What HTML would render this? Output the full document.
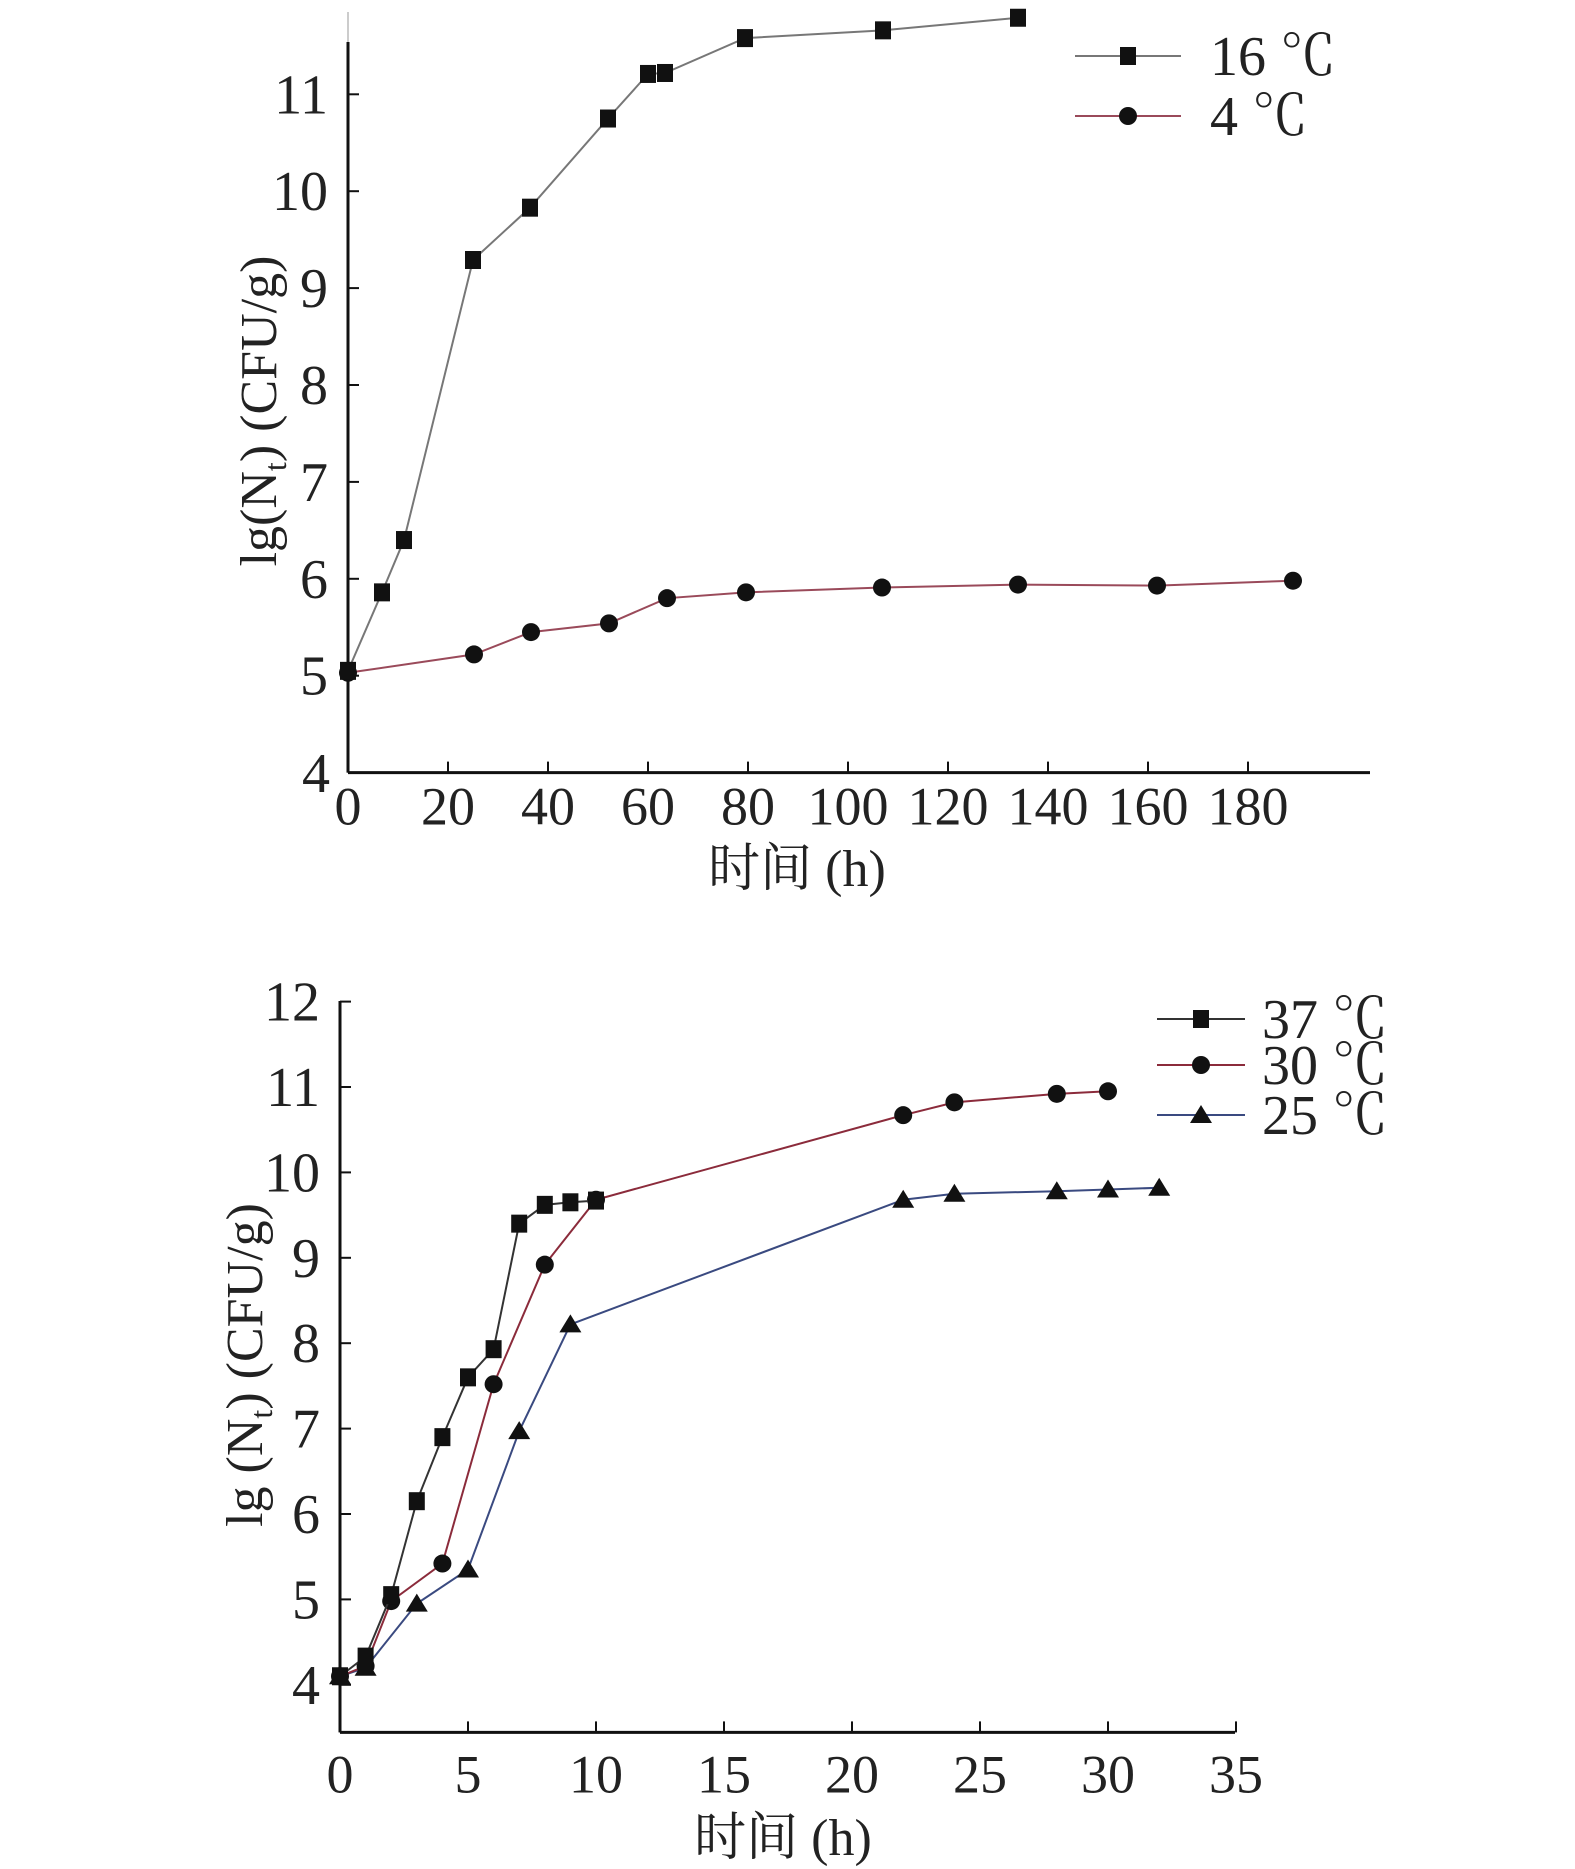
<!DOCTYPE html>
<html><head><meta charset="utf-8"><style>
html,body{margin:0;padding:0;background:#fff}
svg{display:block}
text{font-family:"Liberation Serif","Noto Serif CJK SC",serif;fill:#222}
</style></head><body>
<svg id="svg" width="1575" height="1869" viewBox="0 0 1575 1869"></svg>
<script>
// ---- top chart data ----
const topXTicks = [0,20,40,60,80,100,120,140,160,180];
const topYTicks = [4,5,6,7,8,9,10,11];
const t16x = [0,6.8,11.2,25,36.4,52,60,63.4,79.4,107,134];
const t16y = [5.05,5.86,6.40,9.29,9.83,10.75,11.21,11.22,11.58,11.66,11.79];
const t4x = [0,25.2,36.6,52.2,63.8,79.6,106.8,134,161.8,189];
const t4y = [5.03,5.22,5.45,5.54,5.80,5.86,5.91,5.94,5.93,5.98];
// ---- bottom chart data ----
const botXTicks = [0,5,10,15,20,25,30,35];
const botYTicks = [4,5,6,7,8,9,10,11,12];
const b37x = [0,1,2,3,4,5,6,7,8,9,10];
const b37y = [4.1,4.33,5.05,6.15,6.9,7.6,7.93,9.4,9.62,9.65,9.67];
const b30x = [0,1,2,4,6,8,10,22,24,28,30];
const b30y = [4.1,4.22,4.98,5.42,7.52,8.92,9.68,10.67,10.82,10.92,10.95];
const b25x = [0,1,3,5,7,9,22,24,28,30,32];
const b25y = [4.1,4.2,4.95,5.35,6.97,8.22,9.68,9.75,9.78,9.8,9.82];

const NS='http://www.w3.org/2000/svg';
const svg=document.getElementById('svg');
function mk(tag,attrs,parent){const e=document.createElementNS(NS,tag);for(const k in attrs)e.setAttribute(k,attrs[k]);(parent||svg).appendChild(e);return e;}

const tx=v=>348+v*5, ty=v=>772.6-(v-4)*96.9;
const bx=v=>340+v*25.6, by=v=>1684.8-(v-4)*85.4;

function drawAxes(X,Y,xt,yt,x0,y0,xEnd,yTop,grayTop,name,xlOff){
  const g=mk('g',{});
  
  
  if(grayTop) mk('line',{x1:x0,y1:grayTop,x2:x0,y2:yTop,stroke:'#ccc','stroke-width':2},g);
  mk('line',{x1:x0,y1:yTop,x2:x0,y2:y0,stroke:'#111','stroke-width':3},g);
  mk('line',{x1:x0,y1:y0,x2:xEnd,y2:y0,stroke:'#111','stroke-width':3},g);
  xt.forEach(v=>{
    mk('line',{x1:X(v),y1:y0,x2:X(v),y2:y0-11,stroke:'#111','stroke-width':2},g);
    const t=mk('text',{x:X(v),y:y0+xlOff,'text-anchor':'middle','font-size':54},g);
    t.textContent=v;
    
    
  });
  yt.forEach(v=>{
    mk('line',{x1:x0,y1:Y(v),x2:x0+11,y2:Y(v),stroke:'#111','stroke-width':2},g);
    const t=mk('text',{x:x0-20,y:Y(v)+19,'text-anchor':'end','font-size':56},g);
    t.textContent=v;
    
    
  });
}
drawAxes(tx,ty,topXTicks,topYTicks.slice(1),348,772.6,1370,42,12,'top',52);
{const t=mk('text',{x:330,y:792,'text-anchor':'end','font-size':56});t.textContent='4';}
drawAxes(bx,by,botXTicks,botYTicks,340,1732.4,1235,1001,0,'bottom',60);

function marker(type,x,y,parent){
  if(type==='sq') return mk('rect',{x:x-8,y:y-9,width:16,height:18,fill:'#111'},parent);
  if(type==='ci') return mk('ellipse',{cx:x,cy:y,rx:9,ry:9,fill:'#111'},parent);
  return mk('polygon',{points:`${x},${y-10} ${x+11},${y+8} ${x-11},${y+8}`,fill:'#111'},parent);
}
function series(xs,ys,X,Y,color,type,name){
  const g=mk('g',{});
  
  
  mk('polyline',{points:xs.map((v,i)=>X(v)+','+Y(ys[i])).join(' '),fill:'none',stroke:color,'stroke-width':2},g);
  xs.forEach((v,i)=>{const m=marker(type,X(v),Y(ys[i]),g);});
}
series(t4x,t4y,tx,ty,'#9a4a5a','ci','series-4c');
series(t16x,t16y,tx,ty,'#777','sq','series-16c');
series(b25x,b25y,bx,by,'#3a4a80','tr','series-25c');
series(b30x,b30y,bx,by,'#8b2b3b','ci','series-30c');
series(b37x,b37y,bx,by,'#333','sq','series-37c');

function legend(x1,x2,y,color,type,label,tx0,fs,name){
  const g=mk('g',{});
  
  
  mk('line',{x1:x1,y1:y,x2:x2,y2:y,stroke:color,'stroke-width':2},g);
  marker(type,(x1+x2)/2,y,g);
  const t=mk('text',{x:tx0,y:y+19,'font-size':fs},g);t.textContent=label;
}
legend(1075,1181,56,'#777','sq','16 ℃',1210,56,'legend-16c');
legend(1075,1181,116,'#9a4a5a','ci','4 ℃',1210,56,'legend-4c');
legend(1157,1245,1019,'#333','sq','37 ℃',1262,56,'legend-37c');
legend(1157,1245,1065,'#8b2b3b','ci','30 ℃',1262,56,'legend-30c');
legend(1157,1245,1115,'#3a4a80','tr','25 ℃',1262,56,'legend-25c');

function title(x,y,txt,rot,name){
  const t=mk('text',{x:x,y:y,'text-anchor':'middle','font-size':52});
  if(rot) t.setAttribute('transform',`rotate(-90 ${x} ${y})`);
  t.innerHTML=txt;
  
  
}
title(276,411,'lg(N<tspan font-size="32" dy="10">t</tspan><tspan dy="-10">) (CFU/g)</tspan>',true,'top-y-axis-title');
title(797,886,'时间 (h)',false,'top-x-axis-title');
title(262,1365,'lg (N<tspan font-size="32" dy="10">t</tspan><tspan dy="-10">) (CFU/g)</tspan>',true,'bottom-y-axis-title');
title(783,1855,'时间 (h)',false,'bottom-x-axis-title');
</script>
</body></html>
